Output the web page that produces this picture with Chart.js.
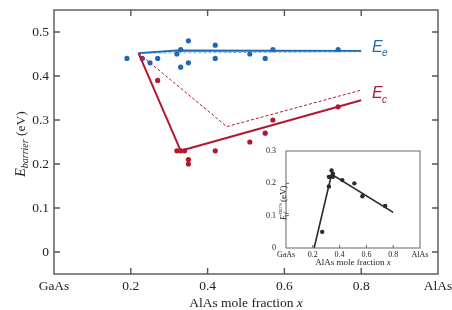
<!DOCTYPE html>
<html>
<head>
<meta charset="utf-8">
<script src="https://cdn.jsdelivr.net/npm/chart.js@4.4.1/dist/chart.umd.min.js"></script>
<style>
  body { margin: 0; background: #fff; }
  #wrap { position: relative; width: 452px; height: 310px; }
  #mainChart { position: absolute; left: 0; top: 0; }
  #insetChart { position: absolute; left: 250px; top: 140px; }
</style>
</head>
<body>
<div id="wrap">
  <canvas id="mainChart" width="452" height="310"></canvas>
  <canvas id="insetChart" width="190" height="135"></canvas>
</div>
<script>
// ---- data ----
const xTicks = [0, 0.2, 0.4, 0.6, 0.8, 1.0];
const xTickLabels = ['GaAs', '0.2', '0.4', '0.6', '0.8', 'AlAs'];
const yTicks = [0, 0.1, 0.2, 0.3, 0.4, 0.5];
const yTickLabels = ['0', '0.1', '0.2', '0.3', '0.4', '0.5'];

const eeX = [0.19, 0.23, 0.25, 0.27, 0.32, 0.33, 0.33, 0.35, 0.35, 0.42, 0.42, 0.51, 0.55, 0.57, 0.74];
const eeY = [0.44, 0.44, 0.43, 0.44, 0.45, 0.46, 0.42, 0.48, 0.43, 0.47, 0.44, 0.45, 0.44, 0.46, 0.46];
const ecX = [0.27, 0.32, 0.33, 0.34, 0.35, 0.35, 0.42, 0.51, 0.55, 0.57, 0.74];
const ecY = [0.39, 0.23, 0.23, 0.23, 0.21, 0.20, 0.23, 0.25, 0.27, 0.30, 0.33];

const eeFitX = [0.22, 0.32, 0.80];
const eeFitY = [0.452, 0.458, 0.457];
const eeDashX = [0.22, 0.80];
const eeDashY = [0.452, 0.455];
const ecFitX = [0.22, 0.33, 0.80];
const ecFitY = [0.452, 0.23, 0.345];
const ecDashX = [0.22, 0.45, 0.80];
const ecDashY = [0.452, 0.285, 0.368];

// inset (DLTS)
const inXTicks = [0, 0.2, 0.4, 0.6, 0.8, 1.0];
const inXTickLabels = ['GaAs', '0.2', '0.4', '0.6', '0.8', 'AlAs'];
const inYTicks = [0, 0.1, 0.2, 0.3];
const inYTickLabels = ['0', '0.1', '0.2', '0.3'];
const dltsX = [0.27, 0.32, 0.32, 0.33, 0.34, 0.35, 0.35, 0.42, 0.51, 0.57, 0.74];
const dltsY = [0.05, 0.19, 0.22, 0.22, 0.24, 0.23, 0.22, 0.21, 0.20, 0.16, 0.13];
const dltsFitX = [0.21, 0.34, 0.80];
const dltsFitY = [0, 0.228, 0.11];

const BLUE = '#1f68b4';
const RED = '#b3172f';
const SERIF = '"Liberation Serif", "DejaVu Serif", serif';
const SANS = '"Liberation Sans", Arial, sans-serif';

const pts = (xs, ys) => xs.map((x, i) => ({x: x, y: ys[i]}));

// fix an axis' thickness so the plot box lands where the original one is
const fixSize = (key, size) => s => {
  s[key] = size;
  s.paddingTop = 0; s.paddingBottom = 0; s.paddingLeft = 0; s.paddingRight = 0;
};

// draws a frame plus inward ticks, like the original plot
function frameTicks(sides, len, color, width) {
  return {
    id: 'frameTicks',
    afterDraw(chart) {
      const ctx = chart.ctx, a = chart.chartArea;
      const xs = chart.scales.x, ys = chart.scales.y;
      ctx.save();
      ctx.strokeStyle = color;
      ctx.lineWidth = width;
      ctx.strokeRect(a.left, a.top, a.right - a.left, a.bottom - a.top);
      ctx.beginPath();
      xs.ticks.forEach(t => {
        const px = xs.getPixelForValue(t.value);
        if (px <= a.left + 1 || px >= a.right - 1) return;
        if (sides.includes('b')) { ctx.moveTo(px, a.bottom); ctx.lineTo(px, a.bottom - len); }
        if (sides.includes('t')) { ctx.moveTo(px, a.top); ctx.lineTo(px, a.top + len); }
      });
      ys.ticks.forEach(t => {
        const py = ys.getPixelForValue(t.value);
        if (py <= a.top + 1 || py >= a.bottom - 1) return;
        if (sides.includes('l')) { ctx.moveTo(a.left, py); ctx.lineTo(a.left + len, py); }
        if (sides.includes('r')) { ctx.moveTo(a.right, py); ctx.lineTo(a.right - len, py); }
      });
      ctx.stroke();
      ctx.restore();
    }
  };
}

const mainText = {
  id: 'mainText',
  afterDraw(chart) {
    const ctx = chart.ctx, a = chart.chartArea;
    const xs = chart.scales.x, ys = chart.scales.y;
    ctx.save();
    // x title
    ctx.fillStyle = '#222';
    ctx.textBaseline = 'alphabetic';
    const t1 = 'AlAs mole fraction ';
    ctx.font = 'italic 13.5px ' + SERIF;
    const wx = ctx.measureText('x').width;
    ctx.font = '13.5px ' + SERIF;
    const w1 = ctx.measureText(t1).width;
    let sx = (a.left + a.right) / 2 - (w1 + wx) / 2;
    ctx.fillText(t1, sx, 307);
    ctx.font = 'italic 13.5px ' + SERIF;
    ctx.fillText('x', sx + w1, 307);

    // y title, rotated
    ctx.translate(25, (a.top + a.bottom) / 2 + 2);
    ctx.rotate(-Math.PI / 2);
    ctx.font = 'italic 14px ' + SERIF;
    const wE = ctx.measureText('E').width;
    ctx.font = 'italic 10px ' + SERIF;
    const wb = ctx.measureText('barrier').width;
    ctx.font = '13.5px ' + SERIF;
    const we = ctx.measureText(' (eV)').width;
    let p = -(wE + wb + we) / 2;
    ctx.font = 'italic 14px ' + SERIF;
    ctx.fillText('E', p, 0);
    ctx.font = 'italic 10px ' + SERIF;
    ctx.fillText('barrier', p + wE, 3);
    ctx.font = '13.5px ' + SERIF;
    ctx.fillText(' (eV)', p + wE + wb, 0);
    ctx.restore();

    // curve labels
    ctx.save();
    const lx = xs.getPixelForValue(0.828);
    ctx.font = 'italic 16px ' + SANS;
    ctx.fillStyle = BLUE;
    ctx.fillText('E', lx, ys.getPixelForValue(0.455));
    ctx.font = 'italic 10px ' + SANS;
    ctx.fillText('e', lx + 10, ys.getPixelForValue(0.455) + 4);
    ctx.font = 'italic 16px ' + SANS;
    ctx.fillStyle = RED;
    ctx.fillText('E', lx, ys.getPixelForValue(0.35));
    ctx.font = 'italic 10px ' + SANS;
    ctx.fillText('c', lx + 10, ys.getPixelForValue(0.35) + 5);
    ctx.restore();
  }
};

const insetText = {
  id: 'insetText',
  afterDraw(chart) {
    const ctx = chart.ctx, a = chart.chartArea;
    ctx.save();
    ctx.fillStyle = '#222';
    ctx.font = '9px ' + SERIF;
    const t1 = 'AlAs mole fraction ';
    const w1 = ctx.measureText(t1).width;
    ctx.font = 'italic 9px ' + SERIF;
    const wx = ctx.measureText('x').width;
    let sx = (a.left + a.right) / 2 - (w1 + wx) / 2;
    ctx.font = '9px ' + SERIF;
    ctx.fillText(t1, sx, 125);
    ctx.font = 'italic 9px ' + SERIF;
    ctx.fillText('x', sx + w1, 125);

    ctx.translate(35.5, 58);
    ctx.rotate(-Math.PI / 2);
    ctx.font = 'italic 9px ' + SERIF;
    ctx.fillText('E', -22, 0);
    ctx.font = 'italic 6px ' + SERIF;
    ctx.fillText('f', -16, 2);
    ctx.font = '4.5px ' + SERIF;
    ctx.fillText('DLTS', -16, -4);
    ctx.font = '9px ' + SERIF;
    ctx.fillText('(eV)', -4, 0);
    ctx.restore();
  }
};

function mainChartLogic() {
  const config = {
    type: 'scatter',
    data: {
      datasets: [
        { data: pts(eeDashX, eeDashY), showLine: true, borderColor: 'rgba(31,104,180,0.55)', borderWidth: 1, borderDash: [3, 2], pointRadius: 0 },
        { data: pts(eeFitX, eeFitY), showLine: true, borderColor: BLUE, borderWidth: 1.8, pointRadius: 0 },
        { data: pts(ecDashX, ecDashY), showLine: true, borderColor: RED, borderWidth: 1, borderDash: [3, 2], pointRadius: 0 },
        { data: pts(ecFitX, ecFitY), showLine: true, borderColor: RED, borderWidth: 2, pointRadius: 0 },
        { data: pts(eeX, eeY), backgroundColor: BLUE, borderWidth: 0, pointRadius: 2.6 },
        { data: pts(ecX, ecY), backgroundColor: RED, borderWidth: 0, pointRadius: 2.6 }
      ]
    },
    options: {
      animation: false,
      responsive: false,
      layout: { padding: { top: 10, right: 14, left: 0, bottom: 0 } },
      plugins: { legend: { display: false }, tooltip: { enabled: false } },
      scales: {
        x: {
          type: 'linear', min: 0, max: 1,
          afterBuildTicks: s => { s.ticks = xTicks.map(v => ({value: v})); },
          afterFit: fixSize('height', 36),
          ticks: {
            color: '#222', padding: 4, maxRotation: 0,
            font: { family: SERIF, size: 13.5 },
            callback: (v) => xTickLabels[xTicks.findIndex(t => Math.abs(t - v) < 1e-6)]
          },
          grid: { display: false, drawTicks: false },
          border: { display: false }
        },
        y: {
          type: 'linear', min: -0.05, max: 0.55,
          afterBuildTicks: s => { s.ticks = yTicks.map(v => ({value: v})); },
          afterFit: fixSize('width', 54),
          ticks: {
            color: '#222', padding: 5,
            font: { family: SERIF, size: 13.5 },
            callback: (v) => yTickLabels[yTicks.findIndex(t => Math.abs(t - v) < 1e-6)]
          },
          grid: { display: false, drawTicks: false },
          border: { display: false }
        }
      }
    },
    plugins: [frameTicks('tblr', 6, '#555', 1.4), mainText]
  };
  new Chart(document.getElementById('mainChart'), config);
}

function insetChartLogic() {
  const config = {
    type: 'scatter',
    data: {
      datasets: [
        { data: pts(dltsFitX, dltsFitY), showLine: true, borderColor: '#2a2a2a', borderWidth: 1.6, pointRadius: 0 },
        { data: pts(dltsX, dltsY), backgroundColor: '#2a2a2a', borderWidth: 0, pointRadius: 2.2 }
      ]
    },
    options: {
      animation: false,
      responsive: false,
      layout: { padding: { top: 11, right: 20, left: 0, bottom: 0 } },
      plugins: { legend: { display: false }, tooltip: { enabled: false } },
      scales: {
        x: {
          type: 'linear', min: 0, max: 1,
          afterBuildTicks: s => { s.ticks = inXTicks.map(v => ({value: v})); },
          afterFit: fixSize('height', 27),
          ticks: {
            color: '#222', padding: 2, maxRotation: 0,
            font: { family: SERIF, size: 8 },
            callback: (v) => inXTickLabels[inXTicks.findIndex(t => Math.abs(t - v) < 1e-6)]
          },
          grid: { display: false, drawTicks: false },
          border: { display: false }
        },
        y: {
          type: 'linear', min: 0, max: 0.3,
          afterBuildTicks: s => { s.ticks = inYTicks.map(v => ({value: v})); },
          afterFit: fixSize('width', 36),
          ticks: {
            color: '#222', padding: 10,
            font: { family: SERIF, size: 8 },
            callback: (v) => inYTickLabels[inYTicks.findIndex(t => Math.abs(t - v) < 1e-6)]
          },
          grid: { display: false, drawTicks: false },
          border: { display: false }
        }
      }
    },
    plugins: [frameTicks('lb', 3, '#666', 1), insetText]
  };
  new Chart(document.getElementById('insetChart'), config);
}

mainChartLogic();
insetChartLogic();
</script>
</body>
</html>
